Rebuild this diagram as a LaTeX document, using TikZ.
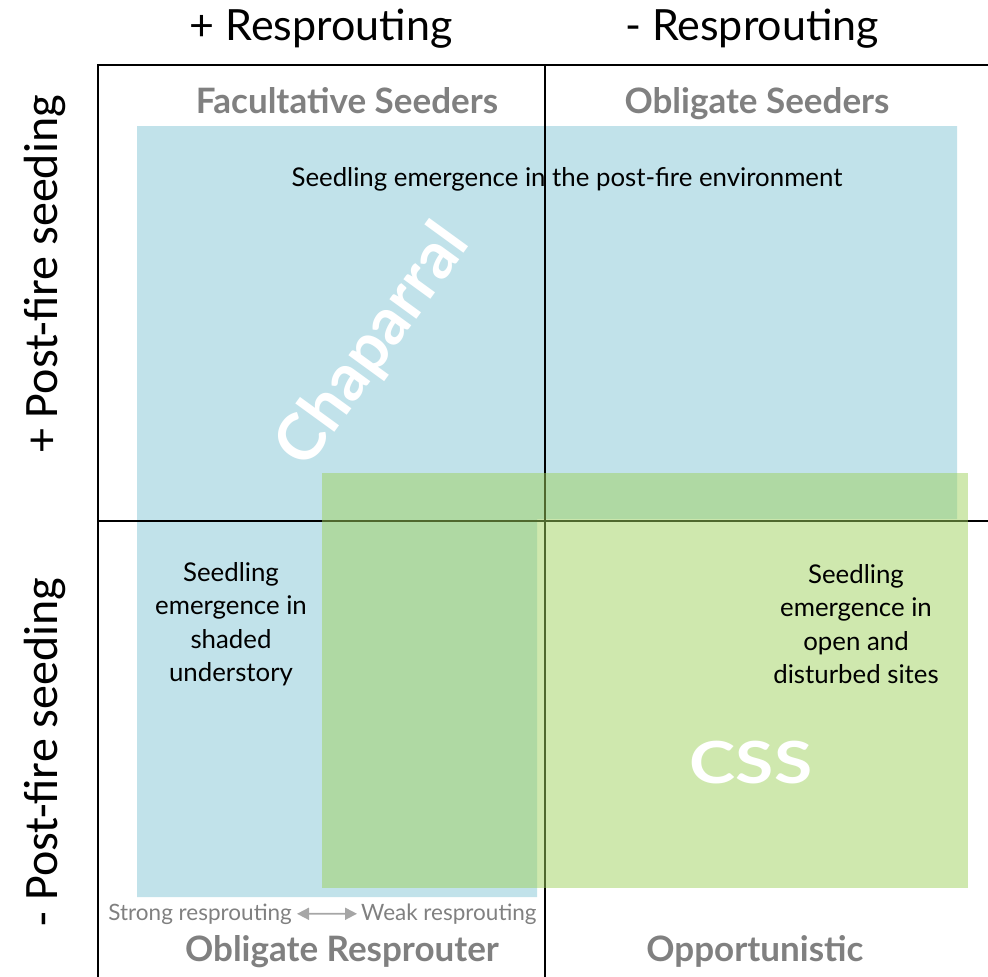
\documentclass[tikz,border=0pt]{standalone}
\usepackage{fontspec}
\setmainfont{Lato}
\newfontfamily\axisfont{Carlito}
\usetikzlibrary{arrows.meta}

\definecolor{chapblue}{RGB}{193,226,234}
\definecolor{cssgreen}{RGB}{159,209,93}
\definecolor{typegray}{RGB}{128,128,128}
\definecolor{arrowgray}{RGB}{166,166,166}

\begin{document}
\begin{tikzpicture}[x=1pt,y=-1pt]
        \tikzset{frame/.style={line width=2.2pt, black},
                 divider/.style={line width=1.4pt, black},
                 axislabel/.style={inner sep=0pt, font=\fontsize{43}{48}\selectfont},
                 seedlabel/.style={inner sep=0pt, rotate=90, font=\axisfont\fontsize{48}{54}\selectfont},
                 strategy/.style={inner sep=0pt, anchor=base, text=typegray, font=\bfseries\fontsize{35}{40}\selectfont},
                 emergence/.style={inner sep=0pt, align=center, font=\fontsize{25.8}{33.5}\selectfont},
                 vegtype/.style={inner sep=0pt, text=white, font=\bfseries},
                 gradient/.style={inner sep=0pt, text=typegray, font=\fontsize{22.5}{26}\selectfont}}
        \useasboundingbox (0,0) rectangle (988,977);
        \coordinate (corner) at (98,65);
        \coordinate (mid) at (545,521);
        % chaparral range
        \fill[chapblue] (137,126) -| (957,519) -| (537,897) -| cycle;
        % axes and quadrants
        \draw[frame] (98,977) -- (corner) -- (988,65);
        \draw[divider] (mid |- corner) -- (545,977);
        \draw[divider] (mid -| corner) -- (988,521);
        % coastal sage scrub range
        \fill[cssgreen, opacity=.5] (322,473) rectangle (968,888);
        % axis labels
        \node[axislabel, anchor=base] (plusR) at (321,40) {+ Resprouting};
        \node[axislabel, anchor=base] (minusR) at (752,40) {- Resprouting};
        \node[seedlabel] (plusS) at (45,274) {+ Post-fire seeding};
        \node[seedlabel] (minusS) at (45,752) {- Post-fire seeding};
        % life history types
        \node[strategy] (facultative) at (347,113) {Facultative Seeders};
        \node[strategy] (obligateS) at (757,113) {Obligate Seeders};
        \node[strategy] (obligateR) at (342,961) {Obligate Resprouter};
        \node[strategy] (opportunistic) at (755,961) {Opportunistic};
        \node[emergence, anchor=base] (postfire) at (567,186) {Seedling emergence in the post-fire environment};
        \node[emergence] (shaded) at (231,624) {Seedling\\emergence in\\shaded\\understory};
        \node[emergence] (open) at (856,624) {Seedling\\emergence in\\open and\\disturbed sites};
        \node[vegtype, rotate=54, font=\bfseries\fontsize{65}{70}\selectfont] (chaparral) at (374,346) {Chaparral};
        \node[vegtype, font=\bfseries\fontsize{58}{64}\selectfont] (css) at (751,763) {\scalebox{1.2}[1]{CSS}};
        % resprouting gradient
        \node[gradient, anchor=base east] (strong) at (292,920) {Strong resprouting};
        \node[gradient, anchor=base west] (weak) at (361,920) {Weak resprouting};
        \draw[{Triangle[length=12pt,width=12pt]}-{Triangle[length=12pt,width=12pt]}, line width=1.8pt, arrowgray,
              shorten <=5pt, shorten >=4pt] (strong.east) -- (weak.west);
\end{tikzpicture}
\end{document}
